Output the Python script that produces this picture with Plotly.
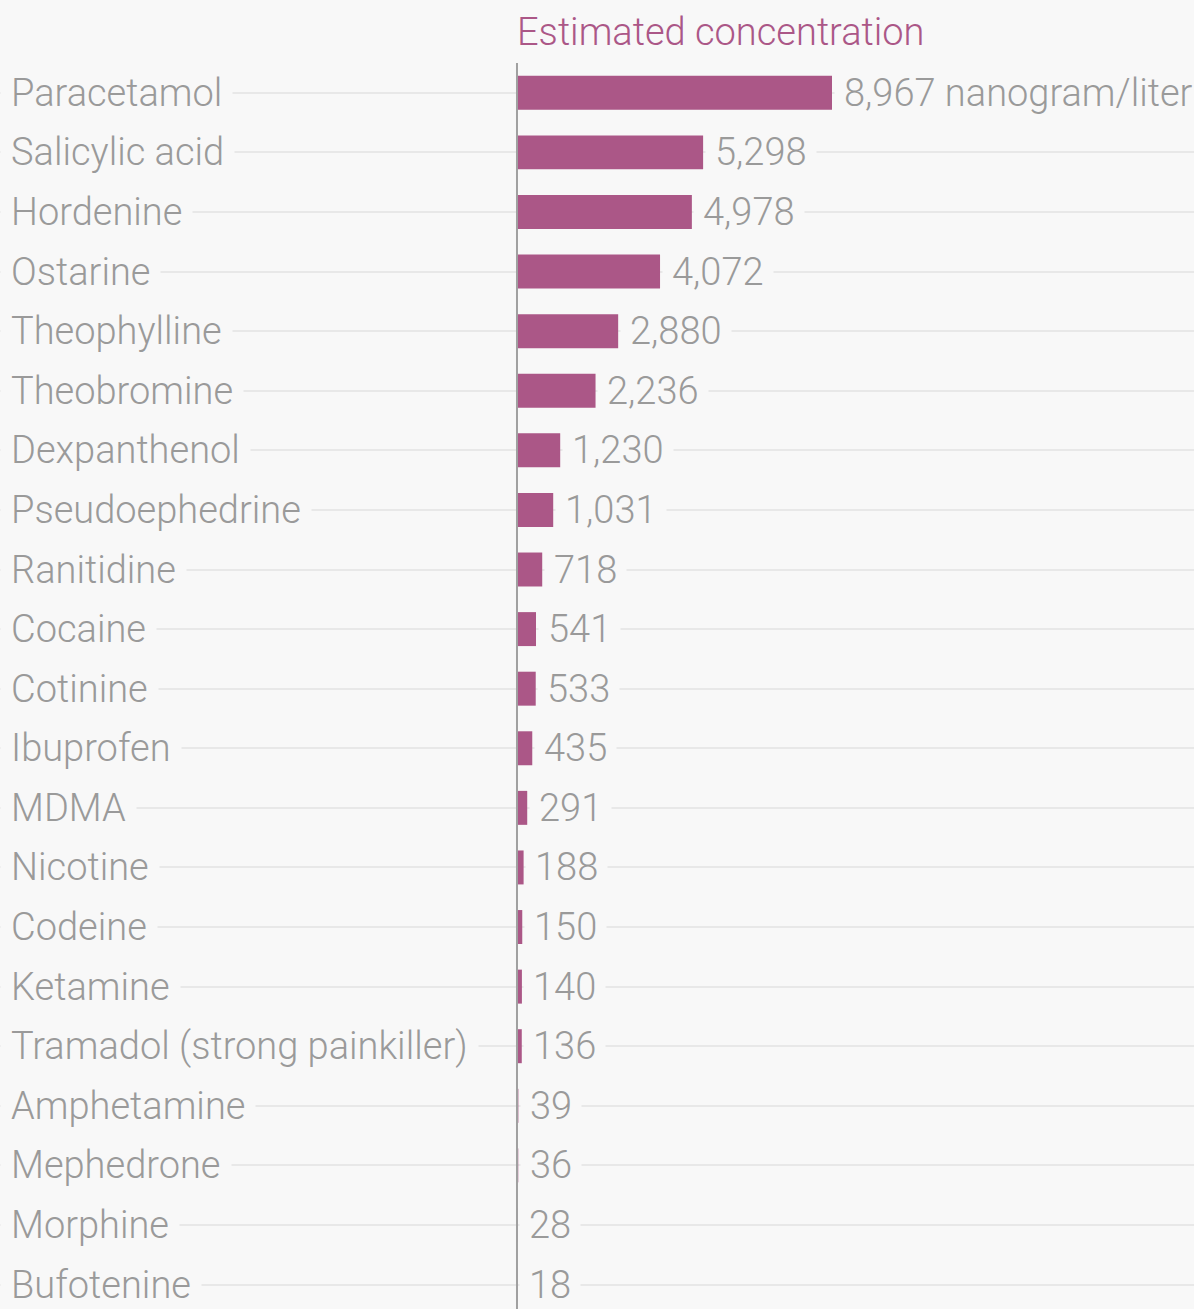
import plotly.graph_objects as go

substances = ["Paracetamol", "Salicylic acid", "Hordenine", "Ostarine", "Theophylline",
              "Theobromine", "Dexpanthenol", "Pseudoephedrine", "Ranitidine", "Cocaine",
              "Cotinine", "Ibuprofen", "MDMA", "Nicotine", "Codeine", "Ketamine",
              "Tramadol (strong painkiller)", "Amphetamine", "Mephedrone", "Morphine", "Bufotenine"]
values = [8967, 5298, 4978, 4072, 2880, 2236, 1230, 1031, 718, 541, 533, 435, 291, 188,
          150, 140, 136, 39, 36, 28, 18]
unit = " nanogram/liter"
title_text = "Estimated concentration"

BG = "#f8f8f8"
BAR = "#ab5787"
GRAY = "#9a9a9a"
FONT = "Roboto"
FS = 38

fig = go.Figure()
fig.add_trace(go.Bar(
    x=values, y=substances, orientation="h",
    marker=dict(color=BAR, line=dict(width=0)),
    width=0.57, hoverinfo="skip",
))

annotations = []
for i, (name, v) in enumerate(zip(substances, values)):
    label = f"{v:,}" + (unit if i == 0 else "")
    annotations.append(dict(
        x=0, xref="paper", y=name, yref="y", text=name, showarrow=False,
        xanchor="left", yanchor="middle", xshift=0,
        font=dict(family=FONT, size=FS, color=GRAY, weight=300),
        bgcolor=BG, borderpad=10,
    ))
    annotations.append(dict(
        x=v, xref="x", y=name, yref="y", text=label, showarrow=False,
        xanchor="left", yanchor="middle", xshift=1.5,
        font=dict(family=FONT, size=FS, color=GRAY, weight=300),
        bgcolor=BG, borderpad=9,
    ))

annotations.append(dict(
    x=0, xref="x", y=1, yref="paper", text=title_text, showarrow=False,
    xanchor="left", yanchor="bottom", xshift=-2, yshift=7,
    font=dict(family=FONT, size=FS, color=BAR, weight=300),
))

fig.update_layout(
    width=1194, height=1309,
    margin=dict(l=0, r=0, t=63, b=0),
    paper_bgcolor=BG, plot_bgcolor=BG,
    showlegend=False,
    annotations=annotations,
    shapes=[dict(type="line", xref="x", yref="paper", x0=0, x1=0, y0=0, y1=1,
                 line=dict(color="#a0a0a0", width=2), layer="above")],
    xaxis=dict(range=[-14717, 19272], showgrid=False, zeroline=False,
               showticklabels=False, fixedrange=True),
    yaxis=dict(type="category", categoryorder="array", categoryarray=substances,
               range=[20.41, -0.5], showgrid=True, gridcolor="#e8e8e8", gridwidth=2,
               showticklabels=False, zeroline=False, fixedrange=True),
)

fig.write_html("out.html", config={"displayModeBar": False},
               post_script="document.body.style.margin='0';")
